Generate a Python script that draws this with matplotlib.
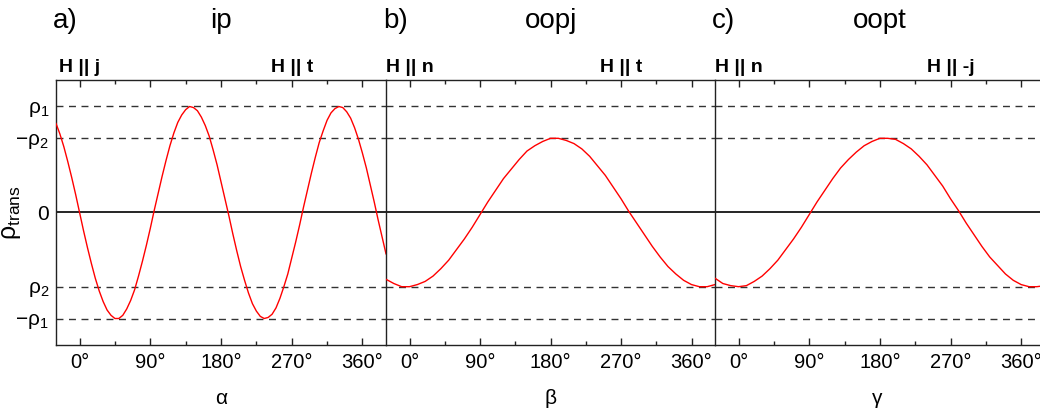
import numpy as np
import matplotlib
matplotlib.use('Agg')
import matplotlib.pyplot as plt

plt.rcParams['font.family'] = ['Liberation Sans', 'DejaVu Sans']
plt.rcParams['mathtext.fontset'] = 'custom'
plt.rcParams['mathtext.rm'] = 'Liberation Sans'
plt.rcParams['mathtext.it'] = 'Liberation Sans:italic'
plt.rcParams['mathtext.bf'] = 'Liberation Sans:bold'

# angle samples (deg) and resistivity
angles_ip = list(range(-30, 391, 5))
rho_ip = [0.84, 0.74, 0.62, 0.48, 0.33, 0.17, 0.00, -0.17, -0.33, -0.48,
          -0.62, -0.74, -0.84, -0.92, -0.97, -1.00, -1.00, -0.97, -0.91, -0.83,
          -0.73, -0.60, -0.46, -0.31, -0.15, 0.02, 0.18, 0.34, 0.49, 0.63,
          0.75, 0.85, 0.92, 0.97, 1.00, 0.99, 0.96, 0.90, 0.82, 0.72,
          0.59, 0.45, 0.29, 0.13, -0.03, -0.20, -0.36, -0.51, -0.64, -0.76,
          -0.86, -0.93, -0.98, -1.00, -0.99, -0.96, -0.90, -0.81, -0.70, -0.58,
          -0.43, -0.28, -0.12, 0.05, 0.21, 0.37, 0.52, 0.66, 0.77, 0.87,
          0.94, 0.98, 1.00, 0.99, 0.95, 0.89, 0.80, 0.69, 0.56, 0.42,
          0.26, 0.10, -0.07, -0.23, -0.39]
angles_oop = list(range(-30, 391, 10))
rho_oopj = [-0.63, -0.67, -0.70, -0.70, -0.68, -0.65, -0.60, -0.53, -0.45, -0.35,
            -0.25, -0.14, -0.02, 0.10, 0.21, 0.32, 0.41, 0.50, 0.58, 0.63,
            0.67, 0.70, 0.70, 0.68, 0.65, 0.60, 0.53, 0.44, 0.35, 0.24,
            0.13, 0.01, -0.10, -0.21, -0.32, -0.42, -0.51, -0.58, -0.64, -0.68,
            -0.70, -0.70, -0.68]
rho_oopt = [-0.62, -0.67, -0.69, -0.70, -0.69, -0.65, -0.60, -0.53, -0.45, -0.35,
            -0.25, -0.14, -0.02, 0.10, 0.21, 0.32, 0.42, 0.50, 0.57, 0.63,
            0.67, 0.70, 0.70, 0.69, 0.65, 0.60, 0.53, 0.45, 0.35, 0.25,
            0.13, 0.02, -0.10, -0.21, -0.32, -0.42, -0.50, -0.58, -0.64, -0.68,
            -0.70, -0.70, -0.69]

ref_levels = [1.0, 0.7, -0.7, -1.0]
ytick_vals = [1.0, 0.7, 0.0, -0.7, -1.0]
ytick_labels = [r'$\mathrm{ρ}_1$', r'$-\mathrm{ρ}_2$', '0', r'$\mathrm{ρ}_2$', r'$-\mathrm{ρ}_1$']
xticks = [0, 90, 180, 270, 360]
xtick_labels = ['0°', '90°', '180°', '270°', '360°']

panels = [
    dict(letter='a)', name='ip', xlabel='α', x=angles_ip, data=rho_ip,
         left='H || j', right='H || t', box=(56, 330), xmax=390),
    dict(letter='b)', name='oopj', xlabel='β', x=angles_oop, data=rho_oopj,
         left='H || n', right='H || t', box=(386, 329), xmax=390),
    dict(letter='c)', name='oopt', xlabel='γ', x=angles_oop, data=rho_oopt,
         left='H || n', right='H || -j', box=(715, 325), xmax=384),
]

W, H = 1040, 412
fig = plt.figure(figsize=(W / 100, H / 100), dpi=100)

for i, p in enumerate(panels):
    x0, w = p['box']
    ax = fig.add_axes([x0 / W, (H - 345) / H, w / W, 265 / H])
    ax.plot(p['x'], p['data'], color='red', lw=1.0, zorder=3)
    for lv in ref_levels:
        ax.axhline(lv, color='#333333', ls=(0, (5, 4)), lw=1.0)
    ax.axhline(0, color='black', lw=1.2)
    ax.set_xlim(-30, p['xmax'])
    ax.set_ylim(-1.25, 1.25)

    ax.set_xticks(xticks)
    ax.set_xticklabels(xtick_labels, fontsize=14.5)
    ax.set_xticks([45, 135, 225, 315], minor=True)
    ax.tick_params(axis='x', which='both', direction='in', top=True, bottom=True,
                   width=1, color='#222222', pad=6)
    ax.tick_params(axis='x', which='major', length=5)
    ax.tick_params(axis='x', which='minor', length=3)
    ax.set_xlabel(p['xlabel'], fontsize=15, labelpad=12)

    ax.set_yticks(ytick_vals)
    ax.tick_params(axis='y', length=0, pad=5)
    if i == 0:
        ax.set_yticklabels(ytick_labels, fontsize=15)
        ax.set_ylabel(r'$\mathrm{ρ}_{\mathrm{trans}}$', fontsize=18)
        ax.yaxis.set_label_coords(-0.1, 0.5)
    else:
        ax.set_yticklabels([])

    for s in ['left', 'top', 'bottom']:
        ax.spines[s].set_color('#222222')
        ax.spines[s].set_linewidth(1.0)
    ax.spines['right'].set_visible(False)

    ax.text(0, 1.33, p['left'], ha='center', va='baseline', fontsize=14,
            fontweight='bold', clip_on=False)
    ax.text(270, 1.33, p['right'], ha='center', va='baseline', fontsize=14,
            fontweight='bold', clip_on=False)

    fig.text((x0 - 3) / W, 1 - 28 / H, p['letter'], ha='left', va='baseline', fontsize=20)
    fig.text((x0 + 165) / W, 1 - 28 / H, p['name'], ha='center', va='baseline', fontsize=20)

fig.savefig('out.png', dpi=100)
